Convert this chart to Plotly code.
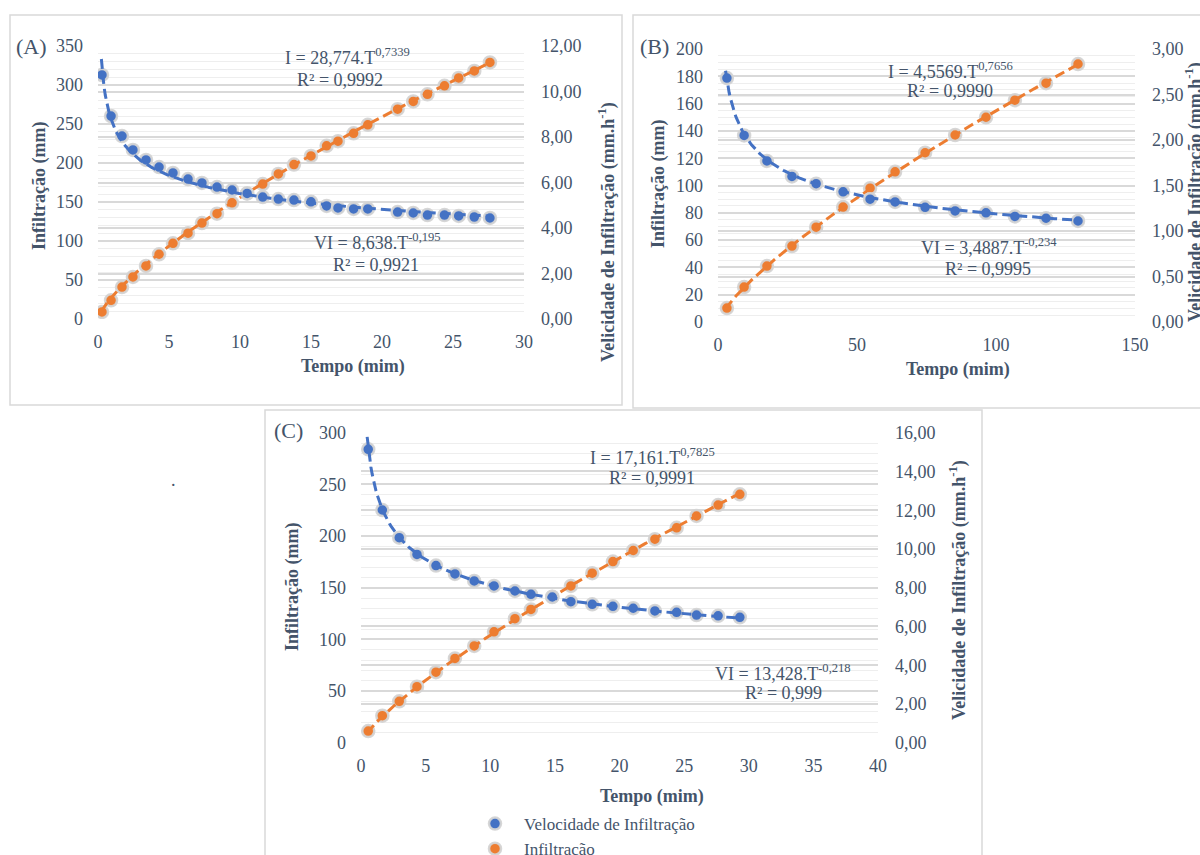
import numpy as np
import plotly.graph_objects as go

# ---------------- data ----------------
A_t = [0.28, 0.92, 1.69, 2.46, 3.38, 4.30, 5.28, 6.34, 7.32, 8.38, 9.44, 10.5, 11.6, 12.7,
       13.8, 15.0, 16.1, 16.9, 18.0, 19.0, 21.1, 22.2, 23.2, 24.4, 25.4, 26.5, 27.6]
A_I = [9, 24, 41, 54, 68, 83, 97, 110, 123, 135, 149, 161, 173, 186,
       198, 209, 222, 228, 238, 249, 269, 279, 288, 299, 309, 318, 329]
A_VI = [10.73, 8.92, 8.04, 7.43, 6.99, 6.68, 6.42, 6.15, 5.98, 5.80, 5.67, 5.52, 5.36, 5.27,
        5.23, 5.15, 4.97, 4.88, 4.84, 4.84, 4.70, 4.66, 4.57, 4.57, 4.53, 4.48, 4.44]

B_t = [3.2, 9.4, 17.6, 26.6, 35.3, 45.0, 54.7, 63.7, 74.5, 85.3, 96.4, 106.8, 118.0, 129.5]
B_I = [10.2, 25.6, 41, 55.6, 69.5, 84.2, 98, 110, 124, 137, 150, 162.5, 175, 189]
B_VI = [2.68, 2.05, 1.77, 1.60, 1.52, 1.43, 1.35, 1.32, 1.26, 1.22, 1.20, 1.16, 1.14, 1.11]

C_t = [0.56, 1.65, 2.96, 4.33, 5.80, 7.27, 8.76, 10.29, 11.91, 13.15, 14.8, 16.24, 17.89,
       19.49, 21.06, 22.74, 24.42, 25.96, 27.63, 29.31]
C_I = [11.3, 26.1, 40, 54.2, 68.2, 81.5, 93.6, 107.3, 120, 129, 141.3, 151.7, 164,
       175.3, 186, 197, 208, 219.4, 230, 240.4]
C_VI = [15.14, 12.01, 10.58, 9.72, 9.14, 8.71, 8.35, 8.09, 7.83, 7.66, 7.52, 7.28, 7.14,
        7.04, 6.94, 6.80, 6.73, 6.59, 6.55, 6.47]

# fitted power-law coefficients printed on the chart (a, b) for y = a*T^b
A_fit_I = (28.774, 0.7339)
A_fit_VI = (8.638, -0.195)
B_fit_I = (4.5569, 0.7656)
B_fit_VI = (3.4887, -0.234)
C_fit_I = (17.161, 0.7825)
C_fit_VI = (13.428, -0.218)

BLUE = "#4472C4"
ORANGE = "#ED7D31"
TXT = "#44546A"
FONT = "Liberation Serif"
W, H = 1200, 855

fig = go.Figure()


def px_x(p):
    return p / W


def px_y(p):
    return 1 - p / H


panels = [
    ("A", A_t, A_I, A_VI, A_fit_I, A_fit_VI, "x", "y", "y2"),
    ("B", B_t, B_I, B_VI, B_fit_I, B_fit_VI, "x2", "y3", "y4"),
    ("C", C_t, C_I, C_VI, C_fit_I, C_fit_VI, "x3", "y5", "y6"),
]

marker_line = dict(color="rgba(212,212,212,0.95)", width=2.5)
for name, t, I, VI, fI, fVI, xa, yl, yr in panels:
    tt = np.linspace(min(t) * 0.85, max(t), 300)
    show = (name == "C")
    fig.add_trace(go.Scatter(x=t, y=VI, mode="markers", xaxis=xa, yaxis=yr,
                             marker=dict(color=BLUE, size=12, line=marker_line),
                             name="Velocidade de Infiltração", showlegend=show,
                             legendgroup="vi"))
    fig.add_trace(go.Scatter(x=tt, y=fVI[0] * tt ** fVI[1], mode="lines", xaxis=xa, yaxis=yr,
                             line=dict(color=BLUE, width=3, dash="10px,5px"),
                             showlegend=False, hoverinfo="skip"))
    fig.add_trace(go.Scatter(x=t, y=I, mode="markers", xaxis=xa, yaxis=yl,
                             marker=dict(color=ORANGE, size=12, line=marker_line),
                             name="Infiltração", showlegend=show, legendgroup="i"))
    fig.add_trace(go.Scatter(x=tt, y=fI[0] * tt ** fI[1], mode="lines", xaxis=xa, yaxis=yl,
                             line=dict(color=ORANGE, width=3, dash="10px,5px"),
                             showlegend=False, hoverinfo="skip"))

tickfont = dict(family=FONT, size=18, color=TXT)
grid_major = "#d9d9d9"
grid_minor = "#eeeeee"


def xax(domain, rng, dtick, anchor):
    return dict(domain=domain, range=rng, dtick=dtick, anchor=anchor, showgrid=False,
                zeroline=False, showline=False, ticks="", tickfont=tickfont,
                ticklabelstandoff=10, automargin=False)


def yleft(domain, rng, dtick, mdtick, anchor):
    return dict(domain=domain, range=rng, dtick=dtick, anchor=anchor, showgrid=True,
                gridcolor=grid_major, gridwidth=1.5, zeroline=False, showline=False,
                ticks="", tickfont=tickfont, ticklabelstandoff=14, automargin=False,
                minor=dict(dtick=mdtick, showgrid=True, gridcolor=grid_minor, gridwidth=1))


def yright(domain, rng, dtick, anchor, overlay):
    return dict(domain=domain, range=rng, dtick=dtick, anchor=anchor, overlaying=overlay,
                side="right", showgrid=True, gridcolor=grid_major, gridwidth=1.5,
                zeroline=False, showline=False, ticks="", tickfont=tickfont,
                tickformat=".2f", ticklabelstandoff=16, automargin=False)


A_dx = [px_x(98), px_x(524)]
A_dy = [px_y(319), px_y(46)]
B_dx = [px_x(718), px_x(1135)]
B_dy = [px_y(322), px_y(49)]
C_dx = [px_x(361), px_x(878)]
C_dy = [px_y(742.7), px_y(432.7)]

fig.update_layout(
    xaxis=xax(A_dx, [0, 30], 5, "y"),
    yaxis=yleft(A_dy, [0, 350], 50, 10, "x"),
    yaxis2=yright(A_dy, [0, 12], 2, "x", "y"),
    xaxis2=xax(B_dx, [0, 150], 50, "y3"),
    yaxis3=yleft(B_dy, [0, 200], 20, 5, "x2"),
    yaxis4=yright(B_dy, [0, 3], 0.5, "x2", "y3"),
    xaxis3=xax(C_dx, [0, 40], 5, "y5"),
    yaxis5=yleft(C_dy, [0, 300], 50, 10, "x3"),
    yaxis6=yright(C_dy, [0, 16], 2, "x3", "y5"),
)

shapes = []
for x0, y0, x1, y1 in [(10, 15, 622, 405), (633, 15, 1210, 408), (265, 410, 982, 870)]:
    shapes.append(dict(type="rect", xref="paper", yref="paper",
                       x0=px_x(x0), x1=px_x(x1), y0=px_y(y1), y1=px_y(y0),
                       line=dict(color="#d9d9d9", width=1.5), fillcolor="rgba(0,0,0,0)"))

ann = []


def text(x, y, s, size=18, bold=False, angle=0):
    if bold:
        s = "<b>" + s + "</b>"
    ann.append(dict(xref="paper", yref="paper", x=px_x(x), y=px_y(y), text=s,
                    showarrow=False, xanchor="center", yanchor="middle", textangle=angle,
                    font=dict(family=FONT, size=size, color=TXT)))


RT = "Velicidade de Infiltração (mm.h<sup>-1</sup>)"
LT = "Infiltração (mm)"
XT = "Tempo (mim)"

# Panel A
text(31, 46, "(A)", size=22)
text(39, 186, LT, bold=True, angle=-90)
text(607, 232, RT, bold=True, angle=-90)
text(353, 366, XT, bold=True)
text(347, 57, "I = 28,774.T<sup>0,7339</sup>")
text(340, 80, "R² = 0,9992")
text(377, 241, "VI = 8,638.T<sup>-0,195</sup>")
text(376, 265, "R² = 0,9921")

# Panel B
text(654, 46, "(B)", size=22)
text(659, 184, LT, bold=True, angle=-90)
text(1194, 192, RT, bold=True, angle=-90)
text(958, 369, XT, bold=True)
text(950, 71, "I = 4,5569.T<sup>0,7656</sup>")
text(950, 91, "R² = 0,9990")
text(989, 247, "VI = 3,4887.T<sup>-0,234</sup>")
text(988, 269, "R² = 0,9995")

# Panel C
text(288, 430, "(C)", size=22)
text(292, 587, LT, bold=True, angle=-90)
text(958, 590, RT, bold=True, angle=-90)
text(652, 796, XT, bold=True)
text(652, 456, "I = 17,161.T<sup>0,7825</sup>")
text(652, 478, "R² = 0,9991")
text(783, 672, "VI = 13,428.T<sup>-0,218</sup>")
text(783, 693, "R² = 0,999")

text(173, 480, ".", size=18)

fig.update_layout(
    width=W, height=H,
    margin=dict(l=0, r=0, t=0, b=0, autoexpand=False),
    paper_bgcolor="white", plot_bgcolor="rgba(0,0,0,0)",
    separators=",.",
    shapes=shapes, annotations=ann,
    font=dict(family=FONT, size=18, color=TXT),
    showlegend=True,
    legend=dict(x=px_x(466), y=px_y(806), xanchor="left", yanchor="top",
                bgcolor="rgba(0,0,0,0)", font=dict(family=FONT, size=17, color=TXT),
                itemwidth=48, tracegroupgap=0, traceorder="normal"),
)

fig.write_html("out.html", config={"displayModeBar": False},
               post_script="document.body.style.margin='0';document.body.style.overflow='hidden';")
